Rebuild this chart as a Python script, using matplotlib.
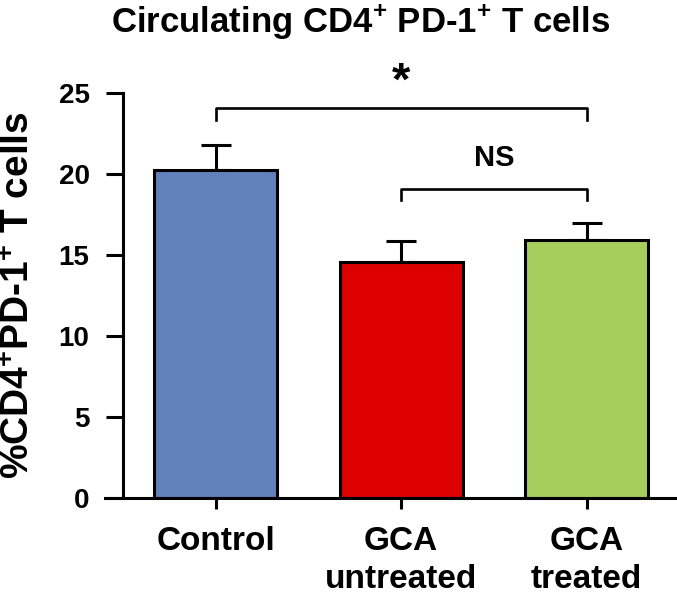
"""
Recreates the bar chart of circulating CD4+ PD-1+ T cells.
"""
import matplotlib
matplotlib.use('Agg')
import matplotlib.pyplot as plt

# =============================================================================
# DATA
# =============================================================================
GRUPOS  = ['Control', 'GCA\nuntreated', 'GCA\ntreated']
MEDIAS  = [20.25, 14.55, 15.9]
ERRORES = [1.55, 1.3, 1.1]
COLORES = ['#6181BB', '#DC0000', '#A5CE5D']
YTICKS  = [0, 5, 10, 15, 20, 25]

# comparaciones: (grupo i, grupo j, altura, etiqueta)
COMPARACIONES = [(0, 2, 24.05, '*'), (1, 2, 19.1, 'NS')]

plt.rcParams['font.family'] = ['Liberation Sans', 'DejaVu Sans']
plt.rcParams['font.weight'] = 'bold'
plt.rcParams['mathtext.fontset'] = 'custom'
plt.rcParams['mathtext.rm'] = 'Liberation Sans:bold'
plt.rcParams['mathtext.bf'] = 'Liberation Sans:bold'

fig = plt.figure(figsize=(6.77, 6.0), dpi=100)
ax = fig.add_axes([0.155, 0.17, 0.845, 0.675])

x = list(range(len(GRUPOS)))
ax.bar(x, MEDIAS, width=0.663, color=COLORES, edgecolor='black',
       linewidth=2.2, zorder=2)
ax.errorbar(x, MEDIAS, yerr=[[0] * len(ERRORES), ERRORES], fmt='none',
            ecolor='black', elinewidth=2.2, capsize=11, capthick=2.2, zorder=1)

ax.set_xlim(-0.597, 2.487)
ax.set_ylim(0, 25)
ax.spines['left'].set_position(('data', -0.5))
ax.spines['left'].set_bounds(0, 25)
for s in ['top', 'right']:
    ax.spines[s].set_visible(False)
for s in ['left', 'bottom']:
    ax.spines[s].set_linewidth(2.2)

ax.set_yticks(YTICKS)
ax.set_xticks(x)
ax.set_xticklabels(GRUPOS, fontsize=24, fontweight='bold', linespacing=1.3)
ax.tick_params(axis='y', labelsize=20, length=12, width=2.2, pad=12)
ax.tick_params(axis='x', length=8, width=2.2, pad=12)

ax.set_ylabel(r'%CD4$^{+}$PD-1$^{+}$ T cells', fontsize=28, fontweight='bold')
ax.yaxis.set_label_coords(-0.118, 0.5)

for i, j, h, txt in COMPARACIONES:
    ax.plot([i, i, j, j], [h - 0.7, h, h, h - 0.7], color='black',
            linewidth=1.9, clip_on=False)
    if txt == '*':
        ax.text((i + j) / 2, h + 0.85, txt, ha='center', va='baseline',
                fontsize=34, fontweight='bold', clip_on=False)
    else:
        ax.text((i + j) / 2, h + 1.0, txt, ha='center', va='bottom',
                fontsize=21, fontweight='bold', clip_on=False)

fig.text(0.532, 0.997, r'Circulating CD4$^{+}$ PD-1$^{+}$ T cells',
         ha='center', va='top', fontsize=25, fontweight='bold')

fig.savefig('out.png', dpi=100)
plt.close(fig)
